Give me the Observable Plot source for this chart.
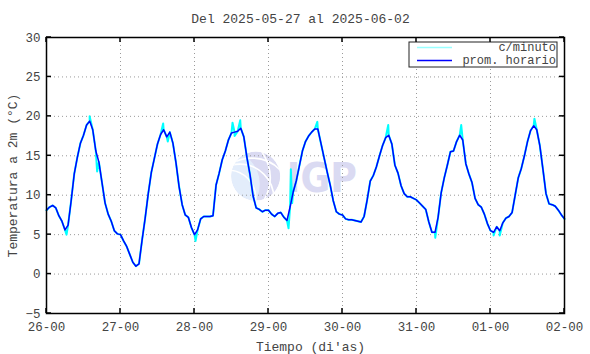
<!DOCTYPE html>
<html><head><meta charset="utf-8">
<script src="https://cdn.jsdelivr.net/npm/d3@7"></script>
<script src="https://cdn.jsdelivr.net/npm/@observablehq/plot@0.6"></script>
<style>body{margin:0;background:#fff}</style>
</head><body><div id="chart"></div>
<script>
const titleText = "Del 2025-05-27 al 2025-06-02";
const xLabel = "Tiempo (di'as)";
const yLabel = "Temperatura a 2m (°C)";
const legendLabels = ["c/minuto", "prom. horario"];

const days = ["2025-05-26","2025-05-27","2025-05-28","2025-05-29","2025-05-30","2025-05-31","2025-06-01"];
const temp26 = [8.1, 8.5, 8.7, 8.4, 7.4, 6.7, 5.6, 6.2, 9.3, 12.7, 14.8, 16.6, 17.6, 18.9, 19.4, 18.3, 15.6, 14.2, 11.6, 9.0, 7.6, 6.7, 5.5, 5.1];
const temp27 = [5.0, 4.2, 3.5, 2.5, 1.5, 1.0, 1.3, 4.3, 7.1, 10.2, 12.9, 14.7, 16.5, 17.7, 18.3, 17.4, 18.0, 16.6, 14.1, 11.1, 8.8, 7.5, 7.2, 5.9];
const temp28 = [5.0, 5.6, 7.0, 7.3, 7.3, 7.3, 7.4, 11.3, 12.8, 14.5, 15.6, 17.0, 17.9, 18.0, 18.1, 18.5, 17.4, 14.8, 12.6, 9.9, 8.4, 8.2, 7.9, 8.1];
const temp29 = [8.1, 7.6, 7.3, 7.7, 7.8, 7.2, 6.8, 8.5, 10.4, 11.8, 13.7, 15.6, 16.8, 17.5, 18.0, 18.4, 18.4, 16.6, 14.8, 13.0, 11.3, 9.3, 7.9, 7.6];
const temp30 = [7.5, 7.0, 6.9, 6.9, 6.8, 6.7, 6.6, 7.3, 9.4, 11.8, 12.5, 13.6, 15.0, 16.3, 17.3, 17.6, 16.5, 13.8, 12.8, 11.2, 10.2, 9.8, 9.8, 9.6];
const temp31 = [9.4, 9.0, 8.6, 8.2, 6.6, 5.3, 5.3, 7.2, 10.3, 12.2, 13.8, 15.5, 15.6, 16.8, 17.6, 17.0, 14.0, 12.7, 11.6, 9.6, 8.8, 8.5, 7.6, 6.4];
const temp01 = [5.5, 5.3, 6.0, 5.5, 6.5, 7.1, 7.3, 7.8, 10.0, 12.2, 13.4, 15.0, 16.8, 18.2, 18.8, 18.3, 16.3, 13.3, 10.2, 8.9, 8.8, 8.6, 8.1, 7.5];
const endTime = "2025-06-02T00:00:00Z";
const endValue = 7.0;

// per-minute excursions
const minuteSpikes = [
  ["2025-05-26T06:30Z", 5.0], ["2025-05-26T14:00Z", 20.0], ["2025-05-26T16:25Z", 13.0],
  ["2025-05-27T13:50Z", 19.1], ["2025-05-27T15:20Z", 16.8], ["2025-05-28T00:20Z", 4.2],
  ["2025-05-28T12:20Z", 19.2], ["2025-05-28T13:00Z", 17.5], ["2025-05-28T14:50Z", 19.5],
  ["2025-05-29T06:30Z", 5.8], ["2025-05-29T07:15Z", 13.3], ["2025-05-29T07:40Z", 9.0],
  ["2025-05-29T15:50Z", 19.3], ["2025-05-30T14:50Z", 18.9], ["2025-05-31T06:05Z", 4.6],
  ["2025-05-31T14:30Z", 18.9], ["2025-06-01T01:00Z", 4.9], ["2025-06-01T03:00Z", 4.9],
  ["2025-06-01T14:15Z", 19.7]
];

const yTicks = [-5, 0, 5, 10, 15, 20, 25, 30];
const xTickDays = [...days, "2025-06-02"];

const dailySeries = [temp26, temp27, temp28, temp29, temp30, temp31, temp01];
const hourly = [];
dailySeries.forEach((vals, i) => vals.forEach((v, h) => {
  hourly.push({t: new Date(`${days[i]}T${String(h).padStart(2, "0")}:00:00Z`), v});
}));
hourly.push({t: new Date(endTime), v: endValue});
const minute = hourly.concat(minuteSpikes.map(([t, v]) => ({t: new Date(t), v})))
  .sort((a, b) => a.t - b.t);
const xTicks = xTickDays.map(d => new Date(d + "T00:00:00Z"));

const font = "'Liberation Mono', 'Courier New', monospace";
const textColor = "#444";
const fs = 12.5;
const wmColor = "#dadaf2";

function decor(kind) {
  return (index, scales, values, dim) => {
    const g = d3.create("svg:g");
    const ml = dim.marginLeft, mt = dim.marginTop;
    const right = dim.width - dim.marginRight, bottom = dim.height - dim.marginBottom;
    const fw = right - ml, fh = bottom - mt;
    if (kind === "watermark") {
      const cx = ml + 0.405 * fw, cy = mt + 0.504 * fh, r = 24.5;
      const clipId = "wmclip";
      g.append("clipPath").attr("id", clipId).append("circle").attr("cx", cx).attr("cy", cy).attr("r", r);
      const gc = g.append("g").attr("clip-path", `url(#${clipId})`);
      gc.append("circle").attr("cx", cx).attr("cy", cy).attr("r", r).attr("fill", wmColor);
      gc.append("circle").attr("cx", cx - 30).attr("cy", cy + 8).attr("r", 34).attr("fill", "#e3edfb");
      [[-8, 28], [4, 34], [16, 40]].forEach(([off, rr]) => {
        gc.append("circle").attr("cx", cx - 20 + off).attr("cy", cy + 22).attr("r", rr)
          .attr("fill", "none").attr("stroke", "#fff").attr("stroke-width", 1.6);
      });
      gc.append("path").attr("d", `M${cx + 6},${cy - r} Q${cx + 22},${cy} ${cx + 8},${cy + r}`)
        .attr("fill", "none").attr("stroke", "#fff").attr("stroke-width", 1.6);
      g.append("text").attr("x", ml + 0.465 * fw).attr("y", mt + 0.562 * fh)
        .attr("text-anchor", "start")
        .attr("textLength", 70).attr("lengthAdjust", "spacingAndGlyphs")
        .style("font-family", "'DejaVu Sans', sans-serif").style("font-weight", "bold")
        .style("font-size", "41px").style("fill", wmColor).text("IGP");
    } else if (kind === "ticks") {
      const tl = 5;
      yTicks.forEach(v => {
        const y = scales.y(v);
        g.append("line").attr("x1", ml).attr("x2", ml + tl).attr("y1", y).attr("y2", y);
        g.append("line").attr("x1", right - tl).attr("x2", right).attr("y1", y).attr("y2", y);
      });
      xTicks.forEach(d => {
        const x = scales.x(d);
        g.append("line").attr("x1", x).attr("x2", x).attr("y1", bottom - tl).attr("y2", bottom);
        g.append("line").attr("x1", x).attr("x2", x).attr("y1", mt).attr("y2", mt + tl);
      });
      g.attr("stroke", "#000").attr("stroke-width", 1.5);
    } else if (kind === "legend") {
      const bx1 = right - 7, bx0 = bx1 - 148, by0 = mt + 5, by1 = by0 + 25;
      g.append("rect").attr("x", bx0).attr("y", by0).attr("width", bx1 - bx0).attr("height", by1 - by0)
        .attr("fill", "#fff").attr("stroke", "#222").attr("stroke-width", 1);
      const rows = [[by0 + 5.5, "#99ffff", legendLabels[0]], [by0 + 18.5, "#0000ff", legendLabels[1]]];
      rows.forEach(([y, c, label]) => {
        g.append("line").attr("x1", bx0 + 8).attr("x2", bx0 + 43).attr("y1", y).attr("y2", y)
          .attr("stroke", c).attr("stroke-width", 1.3);
        g.append("text").attr("x", bx1 - 1).attr("y", y).attr("dy", "0.32em").attr("text-anchor", "end")
          .attr("font-family", font).attr("font-size", 12).attr("fill", textColor).text(label);
      });
    }
    return g.node();
  };
}

const gridStyle = {stroke: "#9a9a9a", strokeOpacity: 1, strokeWidth: 1, strokeDasharray: "1,3"};

const chart = Plot.plot({
  width: 590, height: 354,
  marginLeft: 46, marginRight: 26, marginTop: 37, marginBottom: 41,
  style: {fontFamily: font, fontSize: fs + "px", color: textColor, background: "#fff", overflow: "visible"},
  x: {type: "utc", domain: [xTicks[0], xTicks[xTicks.length - 1]]},
  y: {domain: [yTicks[0], yTicks[yTicks.length - 1]]},
  marks: [
    decor("watermark"),
    Plot.gridX(xTicks.slice(1, -1), gridStyle),
    Plot.gridY(yTicks.slice(1, -1), gridStyle),
    Plot.line(minute, {x: "t", y: "v", stroke: "#00ffff", strokeWidth: 2}),
    Plot.line(hourly, {x: "t", y: "v", stroke: "#0000ff", strokeWidth: 1.5}),
    Plot.frame({stroke: "#000", strokeWidth: 1.5}),
    decor("ticks"),
    Plot.axisX(xTicks, {tickSize: 0, tickPadding: 9, tickFormat: d3.utcFormat("%d-%H"), label: null, fill: textColor, fontSize: fs}),
    Plot.axisY(yTicks, {tickSize: 0, tickPadding: 6, label: null, fill: textColor, fontSize: fs}),
    Plot.text([titleText], {frameAnchor: "top", dy: -19, dx: -5, lineAnchor: "middle", textAnchor: "middle", fill: textColor, fontSize: 13}),
    Plot.text([yLabel], {frameAnchor: "left", rotate: -90, dx: -34, lineAnchor: "middle", textAnchor: "middle", fill: textColor, fontSize: 13}),
    Plot.text([xLabel], {frameAnchor: "bottom", dy: 33, dx: 5, lineAnchor: "middle", textAnchor: "middle", fill: textColor, fontSize: 13}),
    decor("legend")
  ]
});
document.getElementById("chart").appendChild(chart);
</script>
</body></html>
